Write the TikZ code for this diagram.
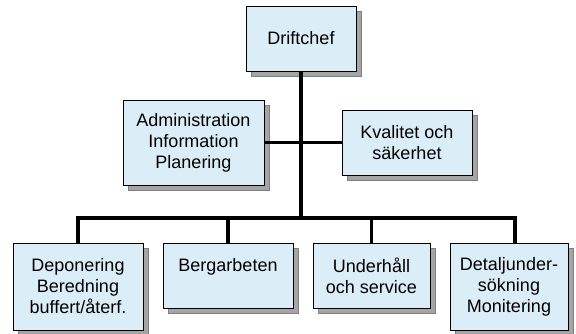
\documentclass[tikz,border=0pt]{standalone}
\usepackage{fontspec}
\setmainfont{Liberation Sans}
\usetikzlibrary{shadows}
\definecolor{boxblue}{RGB}{219,237,246}
\definecolor{shadowgray}{RGB}{165,165,165}

\begin{document}
\begin{tikzpicture}[x=1pt,y=-1pt,
  unitbox/.style={draw=black,line width=0.8pt,fill=boxblue,inner sep=0pt,align=center,
    font=\fontsize{18}{21}\selectfont,
    drop shadow={shadow xshift=5pt,shadow yshift=-5pt,fill=shadowgray,draw=gray,opacity=1}},
  link/.style={line width=3.2pt}]
\useasboundingbox (0,0) rectangle (576,334);

% ============ top level ============
\node[unitbox,minimum width=110pt,minimum height=65pt] (chief) at (301,38.5) {Driftchef};

% ============ staff units ============
\node[unitbox,minimum width=141pt,minimum height=85pt] (admin) at (193.5,142.5) {Administration\\Information\\Planering};
\node[unitbox,minimum width=130pt,minimum height=65pt] (qual) at (407,142.5) {Kvalitet och\\säkerhet};

% ============ line units ============
\node[unitbox,minimum width=130pt,minimum height=87pt] (dep) at (78,286.5) {Deponering\\Beredning\\buffert/återf.};
\node[unitbox,minimum width=130pt,minimum height=65pt] (berg) at (228,275.5) {Bergarbeten\\\phantom{X}};
\node[unitbox,minimum width=117pt,minimum height=65pt] (unde) at (371.5,275.5) {Underhåll\\och service};
\node[unitbox,minimum width=118pt,minimum height=87pt] (detal) at (509,286.5) {Detaljunder-\\sökning\\Monitering};

% ============ connectors ============
\coordinate (bus) at (301,218);
\coordinate (detaldrop) at ([xshift=6pt]detal.north);
\draw[link] (chief.south) -- (chief.south |- bus);
\draw[link] (admin.east) -- (qual.west);
\draw[link] (dep.north) |- (detaldrop |- bus) -- (detaldrop);
\draw[link] (berg.north) -- (berg.north |- bus);
\draw[link] (unde.north) -- (unde.north |- bus);

\end{tikzpicture}
\end{document}
